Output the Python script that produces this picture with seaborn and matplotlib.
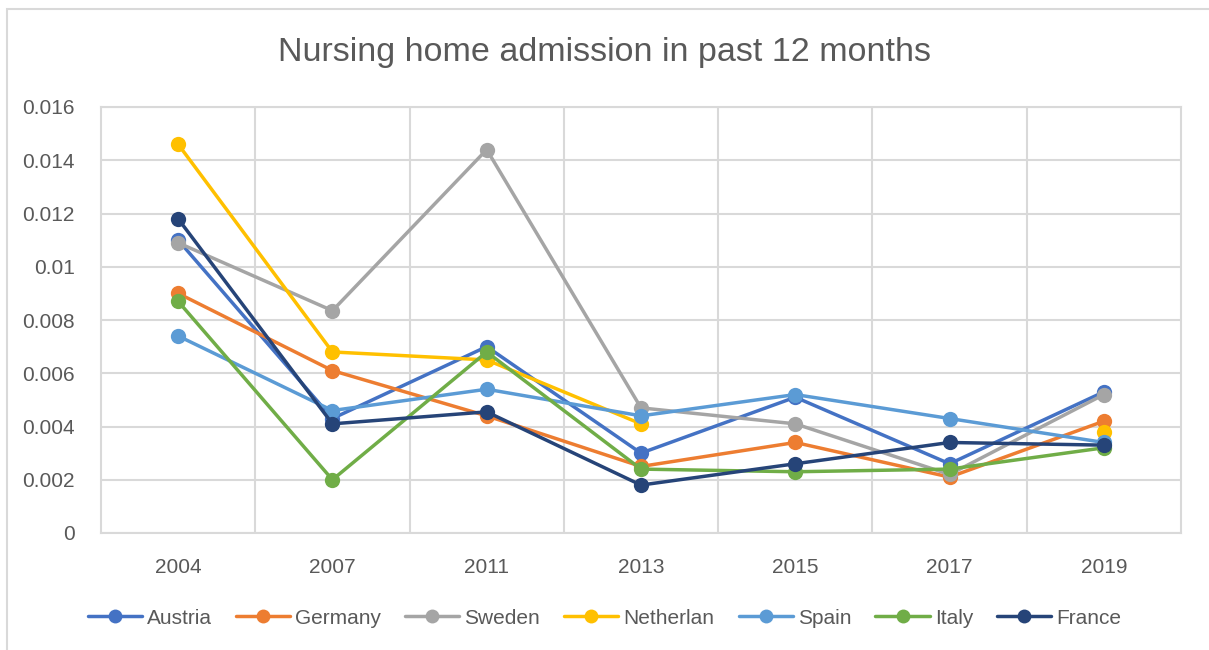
import numpy as np
import pandas as pd
import seaborn as sns
import matplotlib
matplotlib.use("Agg")
import matplotlib.pyplot as plt
from matplotlib.lines import Line2D
from matplotlib.patches import Rectangle

years = ["2004", "2007", "2011", "2013", "2015", "2017", "2019"]
countries = ["Austria", "Germany", "Sweden", "Netherlan", "Spain", "Italy", "France"]
austria = [0.0110, 0.0043, 0.0070, 0.0030, 0.0051, 0.0026, 0.0053]
germany = [0.0090, 0.0061, 0.0044, 0.0025, 0.0034, 0.0021, 0.0042]
sweden = [0.0109, 0.00835, 0.0144, 0.0047, 0.0041, 0.0022, 0.0052]
netherlands = [0.0146, 0.0068, 0.0065, 0.0041, np.nan, np.nan, 0.0038]
spain = [0.0074, 0.0046, 0.0054, 0.0044, 0.0052, 0.0043, 0.0034]
italy = [0.0087, 0.0020, 0.0068, 0.0024, 0.0023, 0.0024, 0.0032]
france = [0.0118, 0.0041, 0.00455, 0.0018, 0.0026, 0.0034, 0.0033]
series = [austria, germany, sweden, netherlands, spain, italy, france]
colors = ["#4472C4", "#ED7D31", "#A5A5A5", "#FFC000", "#5B9BD5", "#70AD47", "#264478"]
ytick_labels = ["0", "0.002", "0.004", "0.006", "0.008", "0.01", "0.012", "0.014", "0.016"]

# long-form table; contiguous runs get their own unit so gaps stay gaps
rows = []
for c, vals in zip(countries, series):
    seg = 0
    prev_nan = False
    for i, v in enumerate(vals):
        if np.isnan(v):
            prev_nan = True
            continue
        if prev_nan:
            seg += 1
            prev_nan = False
        rows.append({"country": c, "x": i, "value": v, "unit": f"{c}_{seg}"})
df = pd.DataFrame(rows)

sns.set_theme(style="white")
plt.rcParams["font.family"] = ["Liberation Sans", "DejaVu Sans"]
txt = "#595959"
grid = "#D9D9D9"

fig = plt.figure(figsize=(12.09, 6.5), dpi=100)
ax = fig.add_axes([101/1209, 1 - 533/650, (1181 - 101)/1209, (533 - 107)/650])

sns.lineplot(data=df, x="x", y="value", hue="country", hue_order=countries,
             palette=colors, units="unit", estimator=None, marker="o",
             markersize=11, markeredgewidth=0, linewidth=2.5, legend=False,
             ax=ax, zorder=3)

ax.set_xlim(-0.5, 6.5)
ax.set_ylim(0, 0.016)
ax.set_xticks(range(len(years)))
ax.set_xticklabels(years)
ax.set_xticks(np.arange(0.5, 6.5, 1.0), minor=True)
yt = np.arange(0, 0.0161, 0.002)
ax.set_yticks(yt)
ax.set_yticklabels(ytick_labels)
ax.tick_params(axis="both", which="both", length=0, labelsize=15, labelcolor=txt)
ax.tick_params(axis="x", pad=18)
ax.tick_params(axis="y", pad=19)
ax.grid(False)
ax.yaxis.grid(True, which="major", color=grid, linewidth=1.5)
ax.xaxis.grid(True, which="minor", color=grid, linewidth=1.5)
ax.set_xlabel("")
ax.set_ylabel("")
for s in ax.spines.values():
    s.set_visible(True)
    s.set_color(grid)
    s.set_linewidth(1.5)

fig.text(0.5, 1 - 52/650, "Nursing home admission in past 12 months",
         ha="center", va="center", fontsize=24.5, color=txt)

handles = [Line2D([0], [0], color=c, lw=2.5, marker="o", markersize=10,
                  markeredgewidth=0) for c in colors]
leg = fig.legend(handles, countries, loc="center", bbox_to_anchor=(0.5, 1 - 618/650),
                 ncol=7, frameon=False, fontsize=15, handlelength=2.6,
                 columnspacing=1.15, handletextpad=0.25, labelcolor=txt)

fig.patches.append(Rectangle((7/1209, -0.1), 1.2, 1 - 9/650 + 0.1,
                             transform=fig.transFigure, fill=False,
                             edgecolor=grid, linewidth=1.5))

fig.savefig("out.png", dpi=100, facecolor="white")
